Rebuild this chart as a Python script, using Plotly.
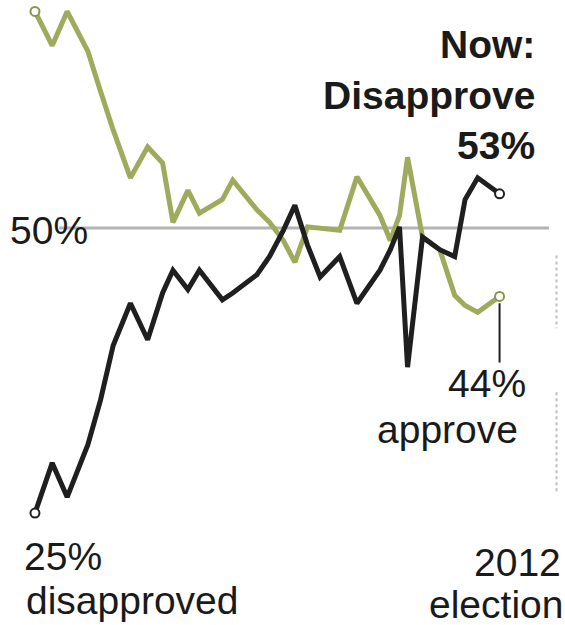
import plotly.graph_objects as go

# Months since start of the series (early 2009); election at month 45
months = [0, 1.5, 2.8, 4.6, 5.7, 6.8, 8.3, 9.8, 11.1, 12.0, 13.3, 14.3, 16.3, 17.2,
          19.3, 20.4, 21.6, 22.6, 23.7, 24.8, 26.5, 28.0, 30.0, 30.9, 31.7, 32.4,
          33.7, 35.2, 36.5, 37.4, 38.5, 40.4]
approve = [69, 66, 69, 65.5, 62, 58.6, 54.4, 57.1, 55.7, 50.5, 53.3, 51.3, 52.5, 54.2,
           51.6, 50.5, 48.9, 47, 50.1, 50, 49.8, 54.5, 51.1, 48.9, 51.1, 56.2,
           49.2, 48.1, 44.1, 43.2, 42.6, 44]
disapprove = [25, 29.4, 26.4, 31, 34.9, 39.7, 43.4, 40.2, 44.3, 46.3, 44.6, 46.3, 43.7, 44.3,
              45.9, 47.5, 49.8, 52, 48.5, 45.7, 47.5, 43.4, 46.3, 48.1, 50.1, 37.8,
              49.2, 48.1, 47.5, 52.5, 54.4, 53]
election_month = 45
reference_level = 50

GREEN = "#a0aa5c"
BLACK = "#1f1f1f"
FONT = "Liberation Sans, Arial, sans-serif"

fig = go.Figure()

fig.add_trace(go.Scatter(x=months, y=approve, mode="lines",
                         line=dict(color=GREEN, width=5), hoverinfo="skip"))
fig.add_trace(go.Scatter(x=months, y=disapprove, mode="lines",
                         line=dict(color=BLACK, width=5), hoverinfo="skip"))
fig.add_trace(go.Scatter(x=[months[0], months[-1]], y=[approve[0], approve[-1]], mode="markers",
                         marker=dict(symbol="circle", size=9, color="white",
                                     line=dict(color="#8a9450", width=2)), hoverinfo="skip"))
fig.add_trace(go.Scatter(x=[months[0], months[-1]], y=[disapprove[0], disapprove[-1]], mode="markers",
                         marker=dict(symbol="circle", size=9, color="white",
                                     line=dict(color=BLACK, width=2)), hoverinfo="skip"))

shapes = [
    # 50% reference line
    dict(type="line", xref="x", yref="y", x0=2.1, x1=44.7, y0=reference_level, y1=reference_level,
         line=dict(color="#b4b4b4", width=3), layer="below"),
    # leader line for approve label
    dict(type="line", xref="x", yref="y", x0=months[-1], x1=months[-1], y0=approve[-1] - 0.6, y1=38.2,
         line=dict(color=BLACK, width=2)),
    # election dotted line (two segments)
    dict(type="line", xref="x", yref="y", x0=election_month + 0.35, x1=election_month + 0.35, y0=47.6, y1=41.2,
         line=dict(color="#bdbdbd", width=2, dash="dot"), layer="below"),
    dict(type="line", xref="x", yref="y", x0=election_month + 0.35, x1=election_month + 0.35, y0=35.6, y1=26.7,
         line=dict(color="#bdbdbd", width=2, dash="dot"), layer="below"),
]

W, H = 565, 625
def px(x):
    return x / W
def py(y):
    return 1 - y / H

def ann(text, x, y, xanchor, size=39, bold=False):
    t = f"<b>{text}</b>" if bold else text
    return dict(text=t, x=px(x), y=py(y), xref="paper", yref="paper",
                xanchor=xanchor, yanchor="middle", showarrow=False,
                font=dict(family=FONT, size=size, color="#1a1a1a"))

annotations = [
    ann("50%", 90, 230, "right"),
    ann("Now:", 537, 44, "right", bold=True),
    ann("Disapprove", 537, 96, "right", bold=True),
    ann("53%", 537, 145, "right", bold=True),
    ann("44%", 528, 383, "right"),
    ann("approve", 520, 430, "right"),
    ann("25%", 22, 556, "left"),
    ann("disapproved", 24, 600, "left"),
    ann("2012", 563, 562, "right"),
    ann("election", 565, 604, "right"),
]

fig.update_layout(
    width=W, height=H,
    margin=dict(l=0, r=0, t=0, b=0),
    paper_bgcolor="white", plot_bgcolor="white",
    showlegend=False,
    xaxis=dict(range=[-3.04, 46.09], visible=False, fixedrange=True),
    yaxis=dict(range=[15.18, 70.0], visible=False, fixedrange=True),
    shapes=shapes,
    annotations=annotations,
)

fig.write_html("out.html", config={"displayModeBar": False},
               post_script="document.body.style.margin='0';document.body.style.overflow='hidden';")
